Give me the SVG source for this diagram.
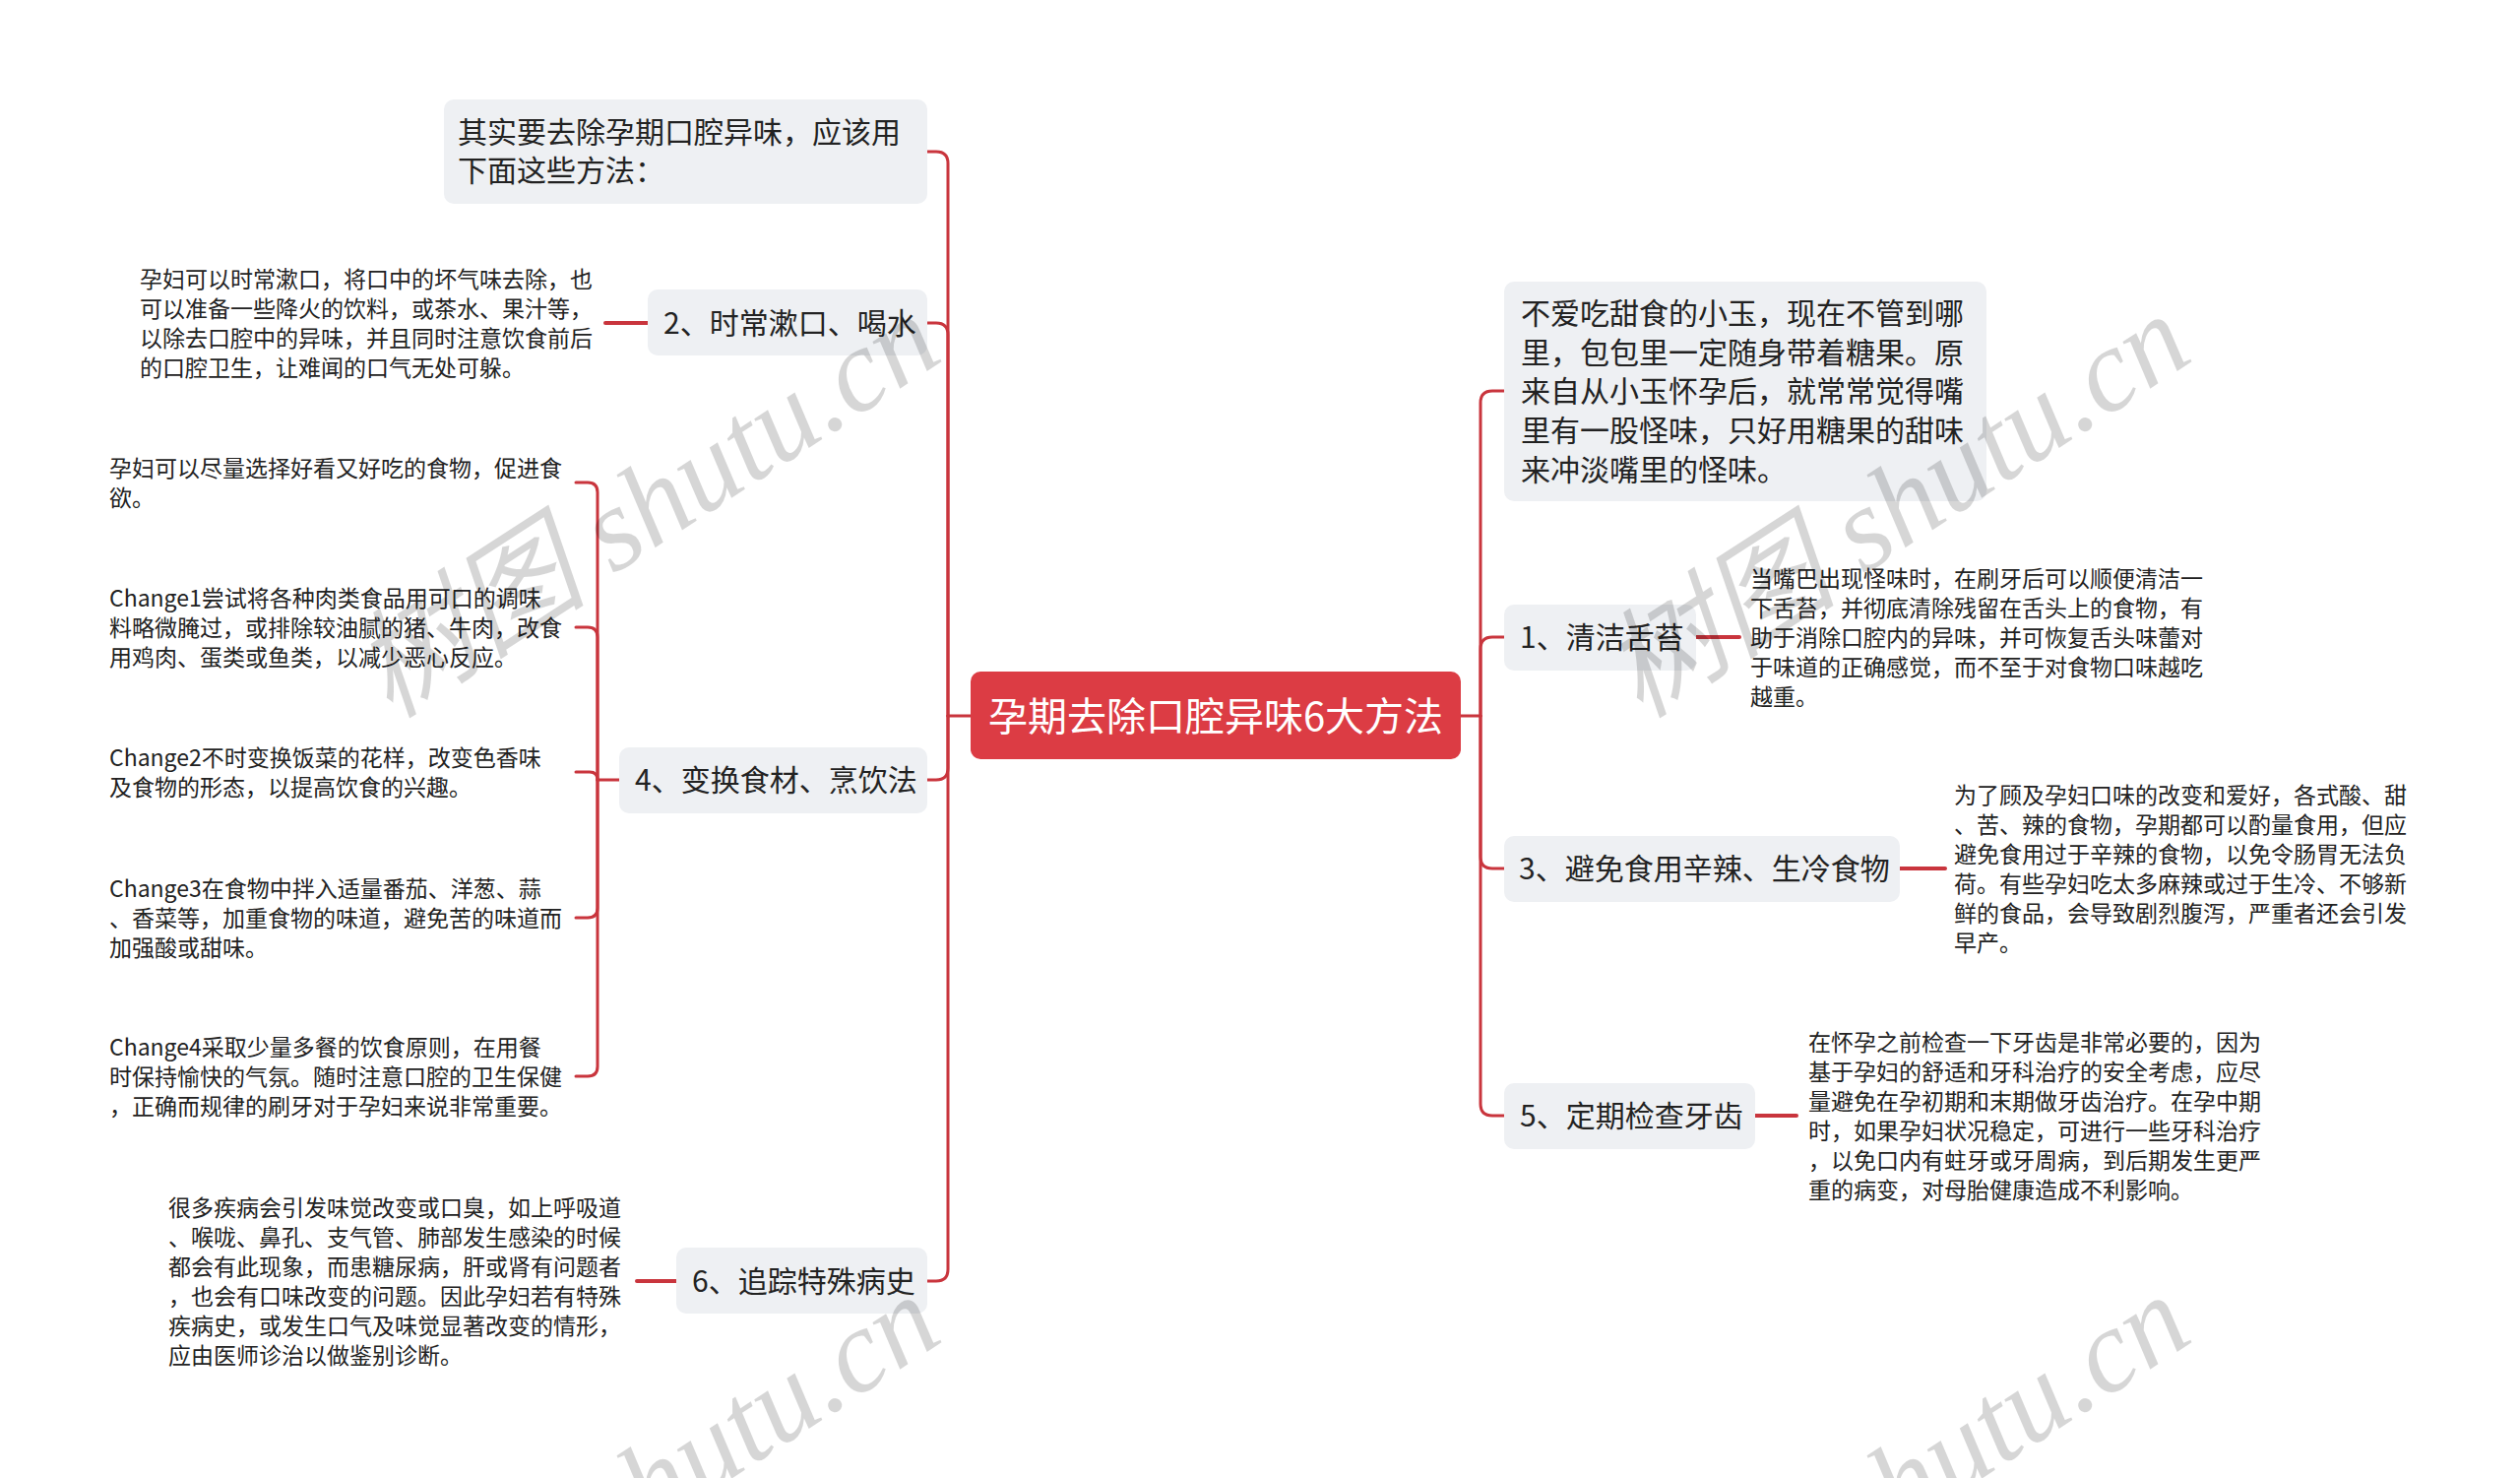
<svg xmlns="http://www.w3.org/2000/svg" width="2560" height="1501" viewBox="0 0 2560 1501">
<style>
.bg{fill:#ffffff}
.node rect{fill:#eef0f3}
.root rect{fill:#dc3c44}
.nt{font-family:"Noto Sans CJK SC","Noto Sans",sans-serif;font-size:30px;fill:#222}
.rt{font-family:"Noto Sans CJK SC","Noto Sans",sans-serif;font-size:40px;fill:#ffffff}
.lt{font-family:"Noto Sans CJK SC","Noto Sans",sans-serif;font-size:23px;fill:#222}
.conn path{fill:none;stroke:#c9353d;stroke-width:3;stroke-linecap:round}
.conn .stub{stroke-width:4}
.wm{font-family:"Liberation Serif","Noto Sans CJK SC",serif;font-style:italic;font-size:120px;fill:#000;fill-opacity:0.16}
</style>
<rect class="bg" x="0" y="0" width="2560" height="1501"/>

<g id="connectors" class="conn">
  <path d="M986 727 H963"/>
  <path d="M963 727 V166 Q963 154 951 154 H942"/>
  <path d="M963 727 V340 Q963 328 951 328 H942"/>
  <path d="M963 727 V780 Q963 792 951 792 H942"/>
  <path d="M963 727 V1289 Q963 1301 951 1301 H942"/>
  <path d="M1484 727 H1504"/>
  <path d="M1504 727 V409 Q1504 397 1516 397 H1528"/>
  <path d="M1504 727 V659 Q1504 647 1516 647 H1528"/>
  <path d="M1504 727 V870 Q1504 882 1516 882 H1528"/>
  <path d="M1504 727 V1121 Q1504 1133 1516 1133 H1528"/>
  <path class="stub" d="M658 328 H615"/>
  <path class="stub" d="M687 1301 H647"/>
  <path class="stub" d="M1723 647 H1767"/>
  <path class="stub" d="M1930 882 H1976"/>
  <path class="stub" d="M1783 1133 H1825"/>
  <path d="M629 792 H607"/>
  <path d="M607 792 V500 Q607 490 597 490 H585"/>
  <path d="M607 792 V647 Q607 637 597 637 H585"/>
  <path d="M607 792 Q607 784 599 784 H585"/>
  <path d="M607 792 V922 Q607 932 597 932 H585"/>
  <path d="M607 792 V1083 Q607 1093 597 1093 H585"/>
</g>

<g id="root" class="root">
  <rect x="986" y="682" width="498" height="89" rx="10"/>
  <text class="rt" x="1235" y="742" text-anchor="middle">孕期去除口腔异味6大方法</text>
</g>

<g id="n-intro" class="node">
  <rect x="451" y="101" width="491" height="106" rx="10"/>
  <text class="nt" x="465" y="145">其实要去除孕期口腔异味，应该用</text>
  <text class="nt" x="465" y="184">下面这些方法：</text>
</g>

<g id="n2" class="node">
  <rect x="658" y="294" width="284" height="67" rx="10"/>
  <text class="nt" x="674" y="339">2、时常漱口、喝水</text>
</g>
<g id="n2-leaf">
  <text class="lt" x="142" y="292">孕妇可以时常漱口，将口中的坏气味去除，也</text>
  <text class="lt" x="142" y="322">可以准备一些降火的饮料，或茶水、果汁等，</text>
  <text class="lt" x="142" y="352">以除去口腔中的异味，并且同时注意饮食前后</text>
  <text class="lt" x="142" y="382">的口腔卫生，让难闻的口气无处可躲。</text>
</g>

<g id="n4" class="node">
  <rect x="629" y="759" width="313" height="67" rx="10"/>
  <text class="nt" x="645" y="803">4、变换食材、烹饮法</text>
</g>
<g id="n4-a">
  <text class="lt" x="111" y="484">孕妇可以尽量选择好看又好吃的食物，促进食</text>
  <text class="lt" x="111" y="514">欲。</text>
</g>
<g id="n4-c1">
  <text class="lt" x="111" y="616">Change1尝试将各种肉类食品用可口的调味</text>
  <text class="lt" x="111" y="646">料略微腌过，或排除较油腻的猪、牛肉，改食</text>
  <text class="lt" x="111" y="676">用鸡肉、蛋类或鱼类，以减少恶心反应。</text>
</g>
<g id="n4-c2">
  <text class="lt" x="111" y="778">Change2不时变换饭菜的花样，改变色香味</text>
  <text class="lt" x="111" y="808">及食物的形态，以提高饮食的兴趣。</text>
</g>
<g id="n4-c3">
  <text class="lt" x="111" y="911">Change3在食物中拌入适量番茄、洋葱、蒜</text>
  <text class="lt" x="111" y="941">、香菜等，加重食物的味道，避免苦的味道而</text>
  <text class="lt" x="111" y="971">加强酸或甜味。</text>
</g>
<g id="n4-c4">
  <text class="lt" x="111" y="1072">Change4采取少量多餐的饮食原则，在用餐</text>
  <text class="lt" x="111" y="1102">时保持愉快的气氛。随时注意口腔的卫生保健</text>
  <text class="lt" x="111" y="1132">，正确而规律的刷牙对于孕妇来说非常重要。</text>
</g>

<g id="n6" class="node">
  <rect x="687" y="1267" width="255" height="67" rx="10"/>
  <text class="nt" x="703" y="1312">6、追踪特殊病史</text>
</g>
<g id="n6-leaf">
  <text class="lt" x="171" y="1235">很多疾病会引发味觉改变或口臭，如上呼吸道</text>
  <text class="lt" x="171" y="1265">、喉咙、鼻孔、支气管、肺部发生感染的时候</text>
  <text class="lt" x="171" y="1295">都会有此现象，而患糖尿病，肝或肾有问题者</text>
  <text class="lt" x="171" y="1325">，也会有口味改变的问题。因此孕妇若有特殊</text>
  <text class="lt" x="171" y="1355">疾病史，或发生口气及味觉显著改变的情形，</text>
  <text class="lt" x="171" y="1385">应由医师诊治以做鉴别诊断。</text>
</g>

<g id="n-story" class="node">
  <rect x="1528" y="286" width="490" height="223" rx="10"/>
  <text class="nt" x="1545" y="329">不爱吃甜食的小玉，现在不管到哪</text>
  <text class="nt" x="1545" y="369">里，包包里一定随身带着糖果。原</text>
  <text class="nt" x="1545" y="408">来自从小玉怀孕后，就常常觉得嘴</text>
  <text class="nt" x="1545" y="448">里有一股怪味，只好用糖果的甜味</text>
  <text class="nt" x="1545" y="488">来冲淡嘴里的怪味。</text>
</g>

<g id="n1" class="node">
  <rect x="1528" y="614" width="195" height="67" rx="10"/>
  <text class="nt" x="1544" y="658">1、清洁舌苔</text>
</g>
<g id="n1-leaf">
  <text class="lt" x="1778" y="596">当嘴巴出现怪味时，在刷牙后可以顺便清洁一</text>
  <text class="lt" x="1778" y="626">下舌苔，并彻底清除残留在舌头上的食物，有</text>
  <text class="lt" x="1778" y="656">助于消除口腔内的异味，并可恢复舌头味蕾对</text>
  <text class="lt" x="1778" y="686">于味道的正确感觉，而不至于对食物口味越吃</text>
  <text class="lt" x="1778" y="716">越重。</text>
</g>

<g id="n3" class="node">
  <rect x="1528" y="849" width="402" height="67" rx="10"/>
  <text class="nt" x="1543" y="893">3、避免食用辛辣、生冷食物</text>
</g>
<g id="n3-leaf">
  <text class="lt" x="1985" y="816">为了顾及孕妇口味的改变和爱好，各式酸、甜</text>
  <text class="lt" x="1985" y="846">、苦、辣的食物，孕期都可以酌量食用，但应</text>
  <text class="lt" x="1985" y="876">避免食用过于辛辣的食物，以免令肠胃无法负</text>
  <text class="lt" x="1985" y="906">荷。有些孕妇吃太多麻辣或过于生冷、不够新</text>
  <text class="lt" x="1985" y="936">鲜的食品，会导致剧烈腹泻，严重者还会引发</text>
  <text class="lt" x="1985" y="966">早产。</text>
</g>

<g id="n5" class="node">
  <rect x="1528" y="1100" width="255" height="67" rx="10"/>
  <text class="nt" x="1544" y="1144">5、定期检查牙齿</text>
</g>
<g id="n5-leaf">
  <text class="lt" x="1837" y="1067">在怀孕之前检查一下牙齿是非常必要的，因为</text>
  <text class="lt" x="1837" y="1097">基于孕妇的舒适和牙科治疗的安全考虑，应尽</text>
  <text class="lt" x="1837" y="1127">量避免在孕初期和末期做牙齿治疗。在孕中期</text>
  <text class="lt" x="1837" y="1157">时，如果孕妇状况稳定，可进行一些牙科治疗</text>
  <text class="lt" x="1837" y="1187">，以免口内有蛀牙或牙周病，到后期发生更严</text>
  <text class="lt" x="1837" y="1217">重的病变，对母胎健康造成不利影响。</text>
</g>

<g id="watermarks">
  <text class="wm" transform="translate(657 514) rotate(-33)" text-anchor="middle" y="40">树图 shutu.cn</text>
  <text class="wm" transform="translate(1927 514) rotate(-33)" text-anchor="middle" y="40">树图 shutu.cn</text>
  <text class="wm" transform="translate(657 1510) rotate(-33)" text-anchor="middle" y="40">树图 shutu.cn</text>
  <text class="wm" transform="translate(1927 1510) rotate(-33)" text-anchor="middle" y="40">树图 shutu.cn</text>
</g>
</svg>
